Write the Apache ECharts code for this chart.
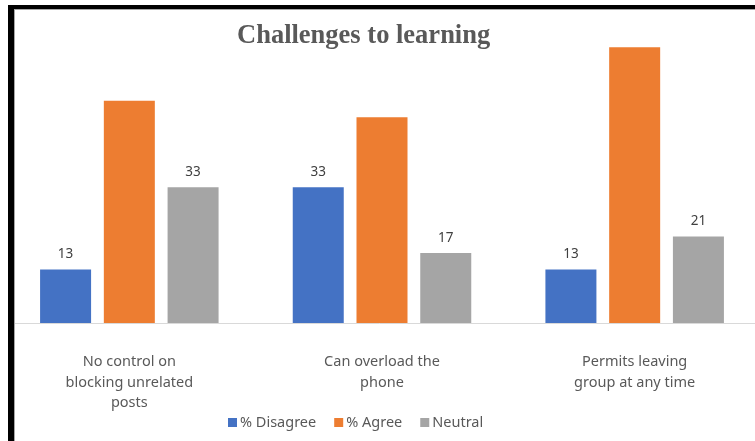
<!DOCTYPE html>
<html>
<head>
<meta charset="utf-8">
<script src="https://cdn.jsdelivr.net/npm/echarts@6/dist/echarts.min.js"></script>
<style>
html,body{margin:0;padding:0;background:#fff;}
#chart{width:755px;height:441px;}
</style>
</head>
<body>
<div id="chart"></div>
<script>
const categories = ["No control on\nblocking unrelated\nposts", "Can overload the\nphone", "Permits leaving\ngroup at any time"];
const disagree = [13, 33, 13];
const agree = [54, 50, 67];
const neutral = [33, 17, 21];
const seriesNames = ["% Disagree", "% Agree", "Neutral"];
const titleText = "Challenges to learning";

const chart = echarts.init(document.getElementById('chart'));
const labelStyle = {show: true, position: 'top', distance: 8, color: '#404040', fontSize: 13.5, fontFamily: 'Noto Sans'};
chart.setOption({
  animation: false,
  backgroundColor: '#fff',
  title: {
    text: titleText, left: 232, top: 18,
    textStyle: {fontFamily: 'Liberation Serif', fontWeight: 'bold', fontSize: 26.5, color: '#595959'}
  },
  legend: {
    data: seriesNames, left: 223, top: 410, itemWidth: 9, itemHeight: 9, itemGap: 18,
    icon: 'rect',
    textStyle: {fontFamily: 'Noto Sans', fontSize: 14.5, color: '#595959', padding: [0,0,0,-2]}
  },
  grid: {left: 3, right: -6, top: 35, bottom: 118, containLabel: false, outerBoundsMode: 'none'},
  xAxis: {
    type: 'category', data: categories,
    axisLine: {lineStyle: {color: '#d9d9d9', width: 1}},
    axisTick: {show: false},
    axisLabel: {fontFamily: 'Noto Sans', fontSize: 14.5, color: '#595959', lineHeight: 20.5, margin: 29}
  },
  yAxis: {type: 'value', min: 0, max: 70, show: false, splitLine: {show: false}},
  series: [
    {name: seriesNames[0], type: 'bar', data: disagree, barWidth: 51, barGap: '25%', itemStyle: {color: '#4472C4'}, label: labelStyle},
    {name: seriesNames[1], type: 'bar', data: agree, barWidth: 51, barGap: '25%', itemStyle: {color: '#ED7D31'}},
    {name: seriesNames[2], type: 'bar', data: neutral, barWidth: 51, barGap: '25%', itemStyle: {color: '#A5A5A5'}, label: labelStyle}
  ],
  graphic: [
    {type: 'rect', shape: {x: 0, y: 0, width: 8, height: 441}, style: {fill: '#fff'}, z: 99},
    {type: 'rect', shape: {x: 14, y: 9, width: 741, height: 1}, style: {fill: '#a6a6a6'}, z: 100},
    {type: 'rect', shape: {x: 14, y: 9, width: 1, height: 432}, style: {fill: '#a6a6a6'}, z: 100},
    {type: 'rect', shape: {x: 8, y: 5, width: 747, height: 4}, style: {fill: '#000'}, z: 101},
    {type: 'rect', shape: {x: 8, y: 5, width: 6, height: 436}, style: {fill: '#000'}, z: 101}
  ]
});
</script>
</body>
</html>
